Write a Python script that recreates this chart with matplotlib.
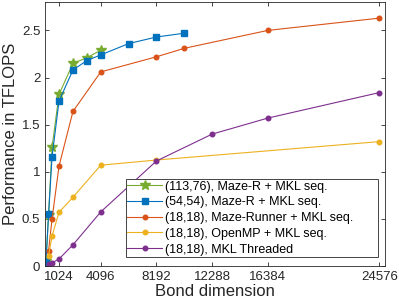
import matplotlib
matplotlib.use('Agg')
import matplotlib.pyplot as plt

plt.rcParams['font.family'] = ['Liberation Sans', 'DejaVu Sans']

# bond dimensions and TFLOPS
x_big = [64, 256, 512, 1024, 2048, 3072, 4096]
y_113 = [0.05, 0.54, 1.26, 1.82, 2.15, 2.21, 2.29]

x_54 = [64, 256, 512, 1024, 2048, 3072, 4096, 6144, 8192, 10240]
y_54 = [0.04, 0.55, 1.16, 1.75, 2.08, 2.18, 2.24, 2.36, 2.43, 2.47]

x_mr = [256, 512, 1024, 2048, 4096, 8192, 10240, 16384, 24576]
y_mr = [0.16, 0.50, 1.06, 1.64, 2.06, 2.22, 2.31, 2.50, 2.63]

x_omp = [256, 512, 1024, 2048, 4096, 8192, 24576]
y_omp = [0.11, 0.32, 0.57, 0.73, 1.07, 1.125, 1.32]

x_mkl = [256, 512, 1024, 2048, 4096, 8192, 12288, 16384, 24576]
y_mkl = [0.025, 0.035, 0.075, 0.225, 0.575, 1.115, 1.40, 1.57, 1.84]

labels = ['(113,76), Maze-R + MKL seq.',
          '(54,54), Maze-R + MKL seq.',
          '(18,18), Maze-Runner + MKL seq.',
          '(18,18), OpenMP + MKL seq.',
          '(18,18), MKL Threaded']
xticks = [1024, 4096, 8192, 12288, 16384, 24576]
yticks = [0, 0.5, 1, 1.5, 2, 2.5]

c_green = (0.466, 0.674, 0.188)
c_blue = (0.0, 0.447, 0.741)
c_orange = (0.85, 0.325, 0.098)
c_yellow = (0.929, 0.694, 0.125)
c_purple = (0.494, 0.184, 0.556)

fig = plt.figure(figsize=(3.99, 3.02), dpi=100)
ax = fig.add_axes([0.113, 0.119, 0.852, 0.874])

lw = 0.8
ax.plot(x_big, y_113, '-*', color=c_green, lw=lw, ms=7, label=labels[0])
ax.plot(x_54, y_54, '-s', color=c_blue, lw=lw, ms=4.5, label=labels[1])
ax.plot(x_mr, y_mr, '-o', color=c_orange, lw=lw, ms=3.3, label=labels[2])
ax.plot(x_omp, y_omp, '-o', color=c_yellow, lw=lw, ms=3.3, label=labels[3])
ax.plot(x_mkl, y_mkl, '-o', color=c_purple, lw=lw, ms=3.3, label=labels[4])

ax.set_xlim(0, 25000)
ax.set_ylim(0, 2.8)
ax.set_xticks(xticks)
ax.set_xticklabels([str(t) for t in xticks])
ax.set_yticks(yticks)
ax.set_yticklabels(['0', '0.5', '1', '1.5', '2', '2.5'])
ax.tick_params(direction='in', top=True, right=True, labelsize=9.5,
               length=3, width=0.6, colors='#262626', labelcolor='#262626')
for s in ax.spines.values():
    s.set_linewidth(0.6)
    s.set_color('#262626')

ax.set_xlabel('Bond dimension', fontsize=12, color='#262626', labelpad=1)
ax.set_ylabel('Performance in TFLOPS', fontsize=12, color='#262626', labelpad=3)

# MATLAB-like legend box: fixed width, text left aligned
leg = ax.legend(loc='lower left', bbox_to_anchor=(0.238, 0.034, 0.741, 0.3),
                mode='expand', fontsize=9,
                fancybox=False, framealpha=1, edgecolor='#262626',
                handlelength=2.8, handletextpad=0.2, borderpad=0.12,
                labelspacing=0.3, borderaxespad=0)
leg.get_frame().set_linewidth(0.6)

fig.savefig('out.png', dpi=100)
